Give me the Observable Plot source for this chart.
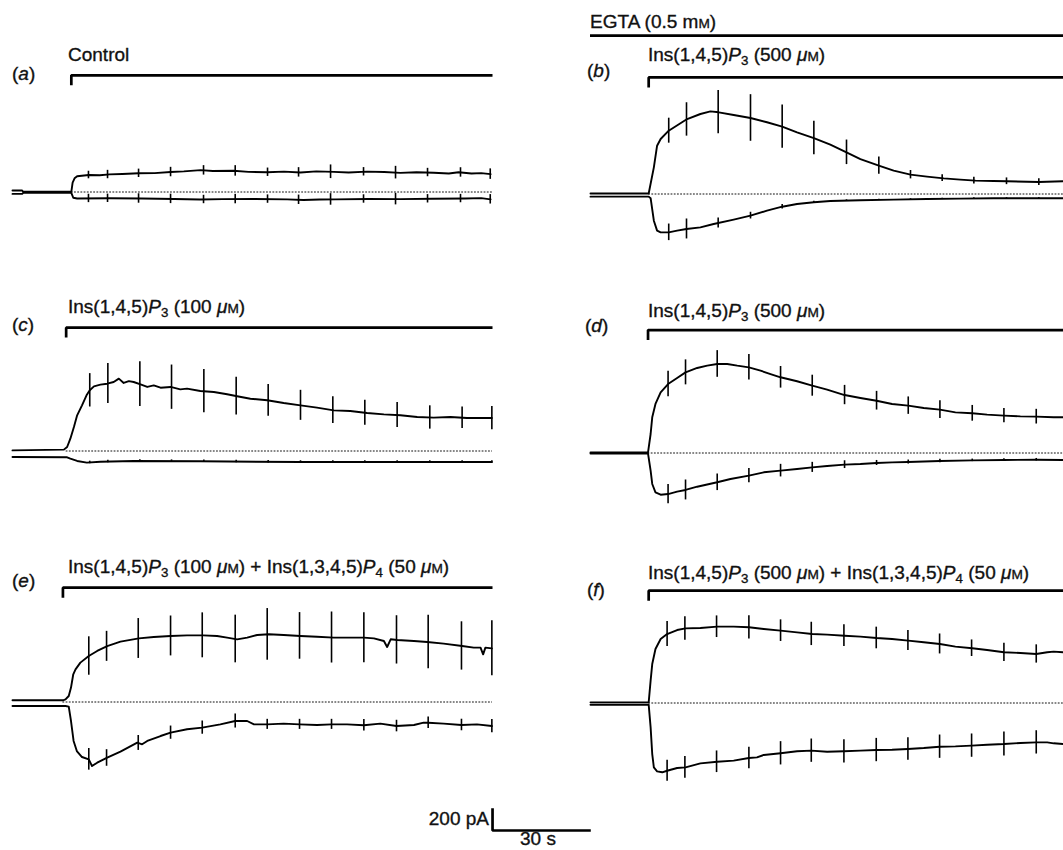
<!DOCTYPE html>
<html><head><meta charset="utf-8">
<script src="https://cdn.jsdelivr.net/npm/d3@7"></script>
<script src="https://cdn.jsdelivr.net/npm/@observablehq/plot@0.6"></script>
<style>
body{margin:0;background:#fff;}
#fig{position:relative;width:1063px;height:850px;overflow:hidden;background:#fff;font-family:"Liberation Sans",Arial,sans-serif;color:#111;}
.lbl{position:absolute;font-size:19px;line-height:19px;white-space:nowrap;-webkit-text-stroke:0.35px #111;}
.sc{font-size:0.72em;}
.lbl sub{font-size:0.7em;vertical-align:-0.32em;line-height:0;}
</style></head><body><div id="fig"></div><script>
// ---- data: time (s) from trace start, current (pA) ----
const aUpper=[[0,14],[3,14],[3.3,2],[18.2,2],[18.6,90],[19.2,130],[20,150],[23.6,162],[27,160],[30,168],[34,172],[39,178],[44,180],[48.9,190],[53,196],[58.2,208],[62,200],[68.4,202],[73,192],[78.8,188],[84,194],[89.1,186],[94,196],[99.4,192],[104,186],[109.7,194],[115,190],[120,182],[125,188],[130.3,184],[135,176],[138,188],[142,176],[145,180],[147.9,170]];
const aLower=[[0,-18],[3,-18],[3.3,-8],[18.2,-8],[18.8,-55],[20,-62],[30,-60],[40,-62],[50,-66],[58,-72],[65,-68],[75,-66],[85,-70],[90,-76],[95,-72],[100,-70],[110,-66],[120,-68],[130,-64],[140,-62],[145,-58],[147.9,-70]];
const aTicksU=[[23.5,36],[29.4,40],[39,40],[48.9,45],[59.1,45],[68.9,50],[78.9,40],[88.5,45],[98.4,65],[108.6,40],[118.5,60],[128.4,40],[138.6,45],[147.8,50]];
const aTicksL=[[23.5,40],[29.4,40],[39,45],[48.9,45],[59.1,40],[68.9,45],[78.9,40],[88.5,45],[98.4,55],[108.6,40],[118.5,55],[128.4,40],[138.6,40],[147.8,45]];

const bUpper=[[0,5],[18.0,5],[19.6,254],[20.6,460],[21.7,524],[24.2,603],[29.9,714],[34.0,762],[37.1,787],[39.7,778],[44.3,752],[49.5,724],[54.6,683],[59.3,641],[63.9,587],[69.1,533],[74.2,470],[79.2,397],[83.5,333],[89.2,270],[93.8,222],[99.0,184],[104.1,165],[109.3,149],[114.4,137],[119.1,127],[124.7,124],[128.9,121],[138.7,114],[146.3,121],[148.5,120]];
const bLower=[[0,-25],[18.0,-25],[18.6,-40],[19.6,-254],[20.6,-349],[21.7,-365],[24.2,-365],[26.8,-349],[29.7,-333],[34.0,-318],[38.1,-286],[44.3,-244],[49.5,-206],[54.6,-159],[59.3,-121],[63.9,-95],[69.1,-79],[74.2,-67],[83.5,-60],[93.8,-54],[104.1,-48],[114.4,-44],[124.7,-41],[148.5,-40]];
const bTicksU=[[24.2,119],[29.7,159],[39.5,206],[49.5,222],[59.3,206],[69.1,159],[79.2,117],[89.2,83],[99.0,40],[108.8,32],[118.6,32],[128.7,32],[138.7,32]];
const bTicksL=[[24.2,79],[29.7,95],[39.5,48],[49.5,32],[59.3,22],[69.1,10],[79.2,8],[89.2,6],[99,6],[108.8,6],[118.6,6],[128.7,6],[138.7,6]];

const cUpper=[[0,6],[15.9,13],[16.9,38],[17.9,117],[19.0,229],[20.0,340],[21.5,435],[22.9,530],[23.9,578],[25.2,616],[27.2,632],[29.3,641],[31.3,657],[32.9,689],[34.4,648],[36,665],[37.5,657],[39.6,635],[41.7,610],[43.7,625],[45.8,603],[48.9,610],[51.9,587],[54.0,594],[58.1,572],[62.3,562],[66.4,540],[69.5,521],[73.6,498],[78.8,483],[83.9,457],[89.1,435],[94.2,413],[99.4,387],[104.5,381],[109.7,362],[114.9,349],[120.0,340],[125.2,324],[130.3,318],[135.5,324],[140.6,314],[148.3,314]];
const cLower=[[0,-57],[16.9,-60],[17.9,-73],[20.0,-95],[23,-111],[27.2,-102],[37.5,-95],[58.1,-98],[89.1,-105],[120,-105],[148.3,-105]];
const cTicksU=[[23.9,159],[29.5,190],[39.4,214],[49.2,211],[59.2,206],[69.2,179],[79.1,151],[89.1,143],[99.1,127],[109.0,119],[119.0,119],[129.1,111],[139.1,103],[148.3,111]];
const cTicksL=[[23.9,12],[29.5,12],[39.4,12],[49.2,12],[59.2,12],[69.2,12],[79.1,12],[89.1,12],[99.1,12],[109.0,12],[119.0,12],[129.1,12],[139.1,12],[148.3,12]];

const dUpper=[[0,5],[17.8,5],[18.6,181],[19.1,340],[20.1,467],[21.7,578],[24.0,657],[26.8,714],[29.4,768],[33.0,810],[36.1,832],[39.2,848],[42.3,848],[45.4,832],[49.0,816],[52.6,784],[55.7,752],[58.8,721],[63.9,683],[68.6,641],[73.2,603],[78.6,552],[83.5,524],[88.5,498],[93.3,467],[98.3,451],[103.1,429],[108.1,413],[112.9,387],[118.1,378],[122.7,365],[127.9,356],[133.0,349],[137.9,346],[143.3,340],[148.5,340]];
const dLower=[[0,-5],[17.8,-5],[18.6,-168],[19.1,-295],[20.1,-375],[21.7,-397],[24.0,-391],[26.8,-368],[29.4,-352],[33.0,-321],[39.2,-279],[43.3,-248],[49.0,-216],[53.6,-184],[58.8,-168],[63.9,-152],[68.6,-137],[73.2,-124],[78.6,-111],[83.5,-105],[88.5,-95],[93.3,-89],[98.3,-86],[108.1,-76],[118.1,-70],[127.9,-67],[137.9,-64],[148.5,-67]];
const dTicksU=[[24.0,122],[29.4,119],[39.2,127],[49.0,121],[58.8,103],[68.6,100],[78.6,92],[88.5,89],[98.3,83],[108.1,84],[118.1,75],[127.9,68],[137.9,70]];
const dTicksL=[[24.0,92],[29.4,95],[39.2,79],[49.0,68],[58.8,60],[68.6,48],[78.6,37],[88.5,24],[98.3,19],[108.1,16],[118.1,12],[127.9,12],[137.9,12]];

const eUpper=[[0,16],[15.6,16],[16.4,25],[17.4,57],[18.1,137],[18.8,264],[19.5,311],[21.0,375],[23.6,438],[26.2,486],[29.3,533],[33.4,575],[39.1,606],[43.7,619],[48.9,629],[54.0,635],[59.0,635],[63.3,629],[66.4,613],[69.5,597],[72.6,613],[75.7,638],[79.3,645],[83.9,638],[89.1,629],[94.2,622],[99.4,613],[104.5,613],[108.7,613],[111.8,606],[114.9,581],[115.9,524],[117.0,597],[119.0,591],[124.2,581],[128.3,572],[133.4,556],[139.1,533],[142.7,518],[144.8,518],[145.6,454],[146.3,518],[148.3,511]];
const eLower=[[0,-38],[16.4,-38],[17.4,-44],[18.1,-181],[18.9,-371],[19.9,-467],[21.5,-524],[23.6,-546],[24.6,-610],[26.2,-578],[29.3,-530],[33.4,-473],[38.6,-387],[40.1,-403],[41.7,-371],[45.8,-324],[48.9,-292],[54.0,-260],[58.7,-244],[64.3,-213],[68.9,-181],[72.6,-181],[74.7,-213],[78.8,-213],[83.9,-206],[88.8,-213],[94.2,-219],[98.7,-213],[103.5,-213],[108.7,-222],[113.8,-206],[118.8,-229],[124.2,-219],[127.2,-197],[128.6,-197],[133.4,-206],[138.9,-219],[143.7,-213],[148.3,-229]];
const eTicksU=[[23.6,183],[29.1,143],[38.9,190],[48.9,190],[58.7,214],[68.9,227],[78.8,246],[88.8,222],[98.7,243],[108.7,238],[118.8,230],[128.6,254],[138.9,230],[148.3,262]];
const eTicksL=[[23.6,103],[29.1,79],[38.9,71],[48.9,63],[58.7,63],[68.9,67],[78.8,48],[88.8,48],[98.7,48],[108.7,55],[118.8,55],[128.6,55],[138.9,55],[148.3,63]];

const fUpper=[[0,6],[18.0,6],[18.6,213],[19.1,371],[20.1,514],[21.7,610],[23.7,657],[26.8,695],[29.4,711],[34.0,714],[39.2,727],[44.3,727],[49.0,721],[53.6,705],[58.8,689],[63.9,673],[68.6,657],[73.2,651],[78.6,641],[83.5,632],[88.5,619],[93.3,610],[98.3,594],[103.1,578],[108.1,562],[112.9,537],[118.1,521],[122.7,505],[127.9,483],[133.0,476],[137.9,467],[141.3,483],[143.3,489],[146.3,483],[148.5,483]];
const fLower=[[0,-16],[18.0,-16],[18.6,-232],[19.1,-486],[19.6,-613],[20.6,-651],[22.2,-660],[23.7,-645],[26.8,-619],[29.4,-613],[34.0,-575],[39.2,-559],[44.3,-549],[49.0,-524],[51.5,-518],[53.6,-495],[58.8,-479],[63.9,-460],[68.3,-454],[73.2,-464],[78.4,-460],[83.5,-454],[88.4,-448],[93.3,-445],[98.2,-438],[103.1,-429],[108.0,-416],[112.9,-413],[117.9,-406],[122.7,-397],[127.9,-391],[133.0,-381],[137.9,-375],[141.3,-375],[143.3,-384],[146.3,-391],[148.5,-391]];
const fTicksU=[[23.7,119],[29.2,111],[39.0,103],[49.0,111],[58.8,103],[68.3,111],[78.4,103],[88.4,103],[98.2,95],[108.0,95],[117.9,79],[127.9,87],[137.9,87]];
const fTicksL=[[23.7,100],[29.2,103],[39.0,103],[49.0,103],[58.8,111],[68.3,111],[78.4,111],[88.4,111],[98.2,108],[108.0,111],[117.9,111],[127.9,114],[137.9,111]];

// application start times (s) and scale-bar values
const stimStart={a:18.2,b:18.0,c:16.6,d:17.8,e:15.6,f:18.0};
const scaleBarSeconds=30, scaleBarPicoamps=200;

// ---- layout ----
const T_END=148.5, PANEL_W=480;
const PX_PER_S=PANEL_W/T_END, PX_PER_PA=21/200;
const Y_TOP=1700, Y_BOT=-850;
const layout={
  a:{x0:12, base:191.7, bar:1111},
  b:{x0:590,base:193.3, bar:1110, egta:1508},
  c:{x0:12, base:450.7, bar:1175},
  d:{x0:590,base:452.3, bar:1171},
  e:{x0:12, base:701,   bar:1089},
  f:{x0:590,base:702.3, bar:1070}
};
const series={
  a:[aUpper,aLower,aTicksU,aTicksL], b:[bUpper,bLower,bTicksU,bTicksL],
  c:[cUpper,cLower,cTicksU,cTicksL], d:[dUpper,dLower,dTicksU,dTicksL],
  e:[eUpper,eLower,eTicksU,eTicksL], f:[fUpper,fLower,fTicksU,fTicksL]
};
const fig=document.getElementById("fig");
const obj=arr=>arr.map(([t,i])=>({t,i}));
function at(arr,t){
  for(let k=1;k<arr.length;k++){
    if(arr[k][0]>=t){const [t0,v0]=arr[k-1],[t1,v1]=arr[k];return t1===t0?v1:v0+(v1-v0)*(t-t0)/(t1-t0);}
  }
  return arr[arr.length-1][1];
}
const tickRows=(ticks,arr)=>ticks.map(([t,h])=>{const c=at(arr,t);return {t,y1:c-h,y2:c+h};});

for(const id of Object.keys(layout)){
  const L=layout[id],[up,lo,tu,tl]=series[id],s=stimStart[id];
  const marks=[
    Plot.ruleY([0],{x1:s,x2:T_END,stroke:"#111",strokeWidth:1,strokeDasharray:"1.8,1.4"}),
    Plot.line(obj(up),{x:"t",y:"i",stroke:"#000",strokeWidth:1.9}),
    Plot.line(obj(lo),{x:"t",y:"i",stroke:"#000",strokeWidth:1.9}),
    Plot.ruleX(tickRows(tu,up),{x:"t",y1:"y1",y2:"y2",stroke:"#000",strokeWidth:1.6}),
    Plot.ruleX(tickRows(tl,lo),{x:"t",y1:"y1",y2:"y2",stroke:"#000",strokeWidth:1.6}),
    Plot.line([{t:s,i:L.bar-95},{t:s,i:L.bar},{t:T_END,i:L.bar}],{x:"t",y:"i",stroke:"#000",strokeWidth:2.7,strokeLinejoin:"miter",strokeLinecap:"butt"})
  ];
  if(L.egta) marks.push(Plot.ruleY([L.egta],{x1:0,x2:T_END,stroke:"#000",strokeWidth:2.8}));
  const svg=Plot.plot({width:PANEL_W,height:(Y_TOP-Y_BOT)*PX_PER_PA,margin:0,
    x:{domain:[0,T_END],axis:null},y:{domain:[Y_BOT,Y_TOP],axis:null},marks});
  Object.assign(svg.style,{position:"absolute",left:L.x0+"px",top:(L.base-Y_TOP*PX_PER_PA)+"px",overflow:"visible",maxWidth:"none",background:"transparent"});
  fig.appendChild(svg);
}

// scale bar
const sb=Plot.plot({width:scaleBarSeconds*PX_PER_S,height:scaleBarPicoamps*PX_PER_PA,margin:0,
  x:{domain:[0,scaleBarSeconds],axis:null},y:{domain:[0,scaleBarPicoamps],axis:null},
  marks:[Plot.line([{t:0,i:scaleBarPicoamps},{t:0,i:0},{t:scaleBarSeconds,i:0}],{x:"t",y:"i",stroke:"#000",strokeWidth:2.7,strokeLinejoin:"miter",strokeLinecap:"square"})]});
Object.assign(sb.style,{position:"absolute",left:"492px",top:(830-scaleBarPicoamps*PX_PER_PA)+"px",overflow:"visible",maxWidth:"none",background:"transparent"});
fig.appendChild(sb);

// labels
const uM='<i>μ</i><span class="sc">M</span>';
const P3='Ins(1,4,5)<i>P</i><sub>3</sub>';
const P4='Ins(1,3,4,5)<i>P</i><sub>4</sub>';
const labels=[
  {x:68,b:61,h:'Control'},
  {x:12,b:80,h:'(<i>a</i>)'},
  {x:590,b:28,h:'EGTA (0.5 m<span class="sc">M</span>)'},
  {x:587,b:77,h:'(<i>b</i>)'},
  {x:648,b:61,h:P3+' (500 '+uM+')'},
  {x:12,b:331,h:'(<i>c</i>)'},
  {x:68,b:313,h:P3+' (100 '+uM+')'},
  {x:585,b:332,h:'(<i>d</i>)'},
  {x:648,b:317,h:P3+' (500 '+uM+')'},
  {x:12,b:587,h:'(<i>e</i>)'},
  {x:68,b:573,h:P3+' (100 '+uM+') + '+P4+' (50 '+uM+')'},
  {x:587,b:596,h:'(<i>f</i>)'},
  {x:648,b:579,h:P3+' (500 '+uM+') + '+P4+' (50 '+uM+')'},
  {r:489,b:825,h:'200 pA'},
  {c:538,b:845,h:'30 s'}
];
for(const l of labels){
  const d=document.createElement("div");d.className="lbl";d.innerHTML=l.h;
  d.style.top=(l.b-16)+"px";
  if(l.r!==undefined){d.style.right=(1063-l.r)+"px";}
  else if(l.c!==undefined){d.style.left=l.c+"px";d.style.transform="translateX(-50%)";}
  else d.style.left=l.x+"px";
  fig.appendChild(d);
}
</script></body></html>
